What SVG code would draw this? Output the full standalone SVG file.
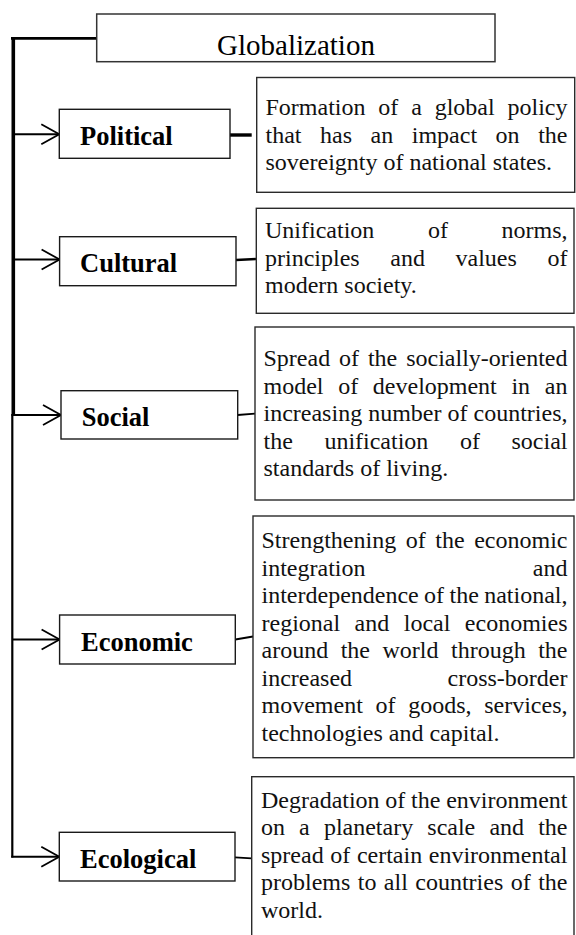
<svg xmlns="http://www.w3.org/2000/svg" width="576" height="935" viewBox="0 0 576 935">
  <defs>
    <style>
      .top { fill: #fff; stroke: #333; stroke-width: 1.5; }
      .cat { fill: #fff; stroke: #1a1a1a; stroke-width: 1.4; }
      .desc { fill: #fff; stroke: #2a2a2a; stroke-width: 1.4; }
      .title { font-family: "Liberation Serif", "Times New Roman", serif; font-size: 29px; fill: #000; }
      .label { font-family: "Liberation Serif", "Times New Roman", serif; font-size: 26.5px; font-weight: bold; fill: #000; }
      .txt { font-family: "Liberation Serif", "Times New Roman", serif; font-size: 24px; fill: #111; }
      .wire { fill: none; stroke: #000; stroke-linecap: butt; }
    </style>
    <marker id="open-arrow" markerUnits="userSpaceOnUse" markerWidth="24" markerHeight="24" refX="18" refY="10" orient="auto" overflow="visible">
      <path d="M0,0 L18,10 L0,20" fill="none" stroke="#000" stroke-width="1.8" stroke-linejoin="miter"/>
    </marker>
  </defs>

  <rect width="576" height="935" fill="#fff"/>

  <!-- trunk, branches and the short links to the description boxes -->
  <g id="connectors">
    <path class="wire" d="M11,38.3 H96.7" stroke-width="2.7"/>
    <path class="wire" d="M13.3,37 V416" stroke-width="3.6"/>
    <path class="wire" d="M12.3,414 V857.5" stroke-width="2.2"/>
    <path class="wire" d="M12.5,134.3 H59.3" stroke-width="1.9" marker-end="url(#open-arrow)"/>
    <path class="wire" d="M12.5,259.5 H59.6" stroke-width="1.9" marker-end="url(#open-arrow)"/>
    <path class="wire" d="M12.5,415 H61" stroke-width="1.9" marker-end="url(#open-arrow)"/>
    <path class="wire" d="M12.5,639.5 H59.6" stroke-width="1.9" marker-end="url(#open-arrow)"/>
    <path class="wire" d="M11.2,856.7 H59.3" stroke-width="1.9" marker-end="url(#open-arrow)"/>
    <path class="wire" d="M230,135 L251.7,135" stroke-width="3.4"/>
    <path class="wire" d="M236,260 L256.3,259" stroke-width="2.4"/>
    <path class="wire" d="M237.7,415 L255,413.7" stroke-width="1.8"/>
    <path class="wire" d="M235.3,639.5 L253,636.5" stroke-width="1.8"/>
    <path class="wire" d="M235,857.3 L251.7,858.3" stroke-width="1.8"/>
  </g>

  <g id="node-globalization">
    <rect class="top" x="96.7" y="14" width="398.3" height="47.7"/>
    <text class="title" x="296" y="54.5" text-anchor="middle">Globalization</text>
  </g>

  <g id="node-political">
    <rect class="cat" x="59.3" y="109.3" width="170.7" height="49"/>
    <text class="label" x="80" y="145">Political</text>
  </g>
  <g id="desc-political">
    <rect class="desc" x="256.7" y="77.5" width="318" height="114.8"/>
    <text class="txt">
      <tspan x="265.5" y="115" word-spacing="6.84">Formation of a global policy</tspan>
      <tspan x="265.5" y="142.6" word-spacing="12.54">that has an impact on the</tspan>
      <tspan x="265.5" y="170.2">sovereignty of national states.</tspan>
    </text>
  </g>

  <g id="node-cultural">
    <rect class="cat" x="59.6" y="236.7" width="176.4" height="49"/>
    <text class="label" x="80" y="272">Cultural</text>
  </g>
  <g id="desc-cultural">
    <rect class="desc" x="256.3" y="208.3" width="317.7" height="105"/>
    <text class="txt">
      <tspan x="265" y="238" word-spacing="47.6">Unification of norms,</tspan>
      <tspan x="265" y="265.5" word-spacing="24.63">principles and values of</tspan>
      <tspan x="265" y="293">modern society.</tspan>
    </text>
  </g>

  <g id="node-social">
    <rect class="cat" x="61" y="390.7" width="176.7" height="48.3"/>
    <text class="label" x="81.7" y="426">Social</text>
  </g>
  <g id="desc-social">
    <rect class="desc" x="255" y="327" width="319" height="173"/>
    <text class="txt">
      <tspan x="263.5" y="366" word-spacing="2.91">Spread of the socially-oriented</tspan>
      <tspan x="263.5" y="393.5" word-spacing="8.67">model of development in an</tspan>
      <tspan x="263.5" y="421" word-spacing="0.03">increasing number of countries,</tspan>
      <tspan x="263.5" y="448.5" word-spacing="25.57">the unification of social</tspan>
      <tspan x="263.5" y="476">standards of living.</tspan>
    </text>
  </g>

  <g id="node-economic">
    <rect class="cat" x="59.6" y="615" width="175.7" height="49"/>
    <text class="label" x="81" y="651">Economic</text>
  </g>
  <g id="desc-economic">
    <rect class="desc" x="253" y="516" width="321" height="241.7"/>
    <text class="txt">
      <tspan x="261.5" y="548" word-spacing="3.57">Strengthening of the economic</tspan>
      <tspan x="261.5" y="575.5" word-spacing="161.35">integration and</tspan>
      <tspan x="261.5" y="603" word-spacing="-0.63">interdependence of the national,</tspan>
      <tspan x="261.5" y="630.5" word-spacing="8.47">regional and local economies</tspan>
      <tspan x="261.5" y="658" word-spacing="6.51">around the world through the</tspan>
      <tspan x="261.5" y="685.5" word-spacing="89.4">increased cross-border</tspan>
      <tspan x="261.5" y="713" word-spacing="6.68">movement of goods, services,</tspan>
      <tspan x="261.5" y="740.5">technologies and capital.</tspan>
    </text>
  </g>

  <g id="node-ecological">
    <rect class="cat" x="59.3" y="832.3" width="175.7" height="48.7"/>
    <text class="label" x="80" y="867.7">Ecological</text>
  </g>
  <g id="desc-ecological">
    <rect class="desc" x="251.7" y="776.7" width="322.3" height="170"/>
    <text class="txt">
      <tspan x="261" y="807.5" word-spacing="-0.26">Degradation of the environment</tspan>
      <tspan x="261" y="835" word-spacing="8.12">on a planetary scale and the</tspan>
      <tspan x="261" y="862.5" word-spacing="0.63">spread of certain environmental</tspan>
      <tspan x="261" y="890" word-spacing="1.44">problems to all countries of the</tspan>
      <tspan x="261" y="917.5">world.</tspan>
    </text>
  </g>
</svg>
